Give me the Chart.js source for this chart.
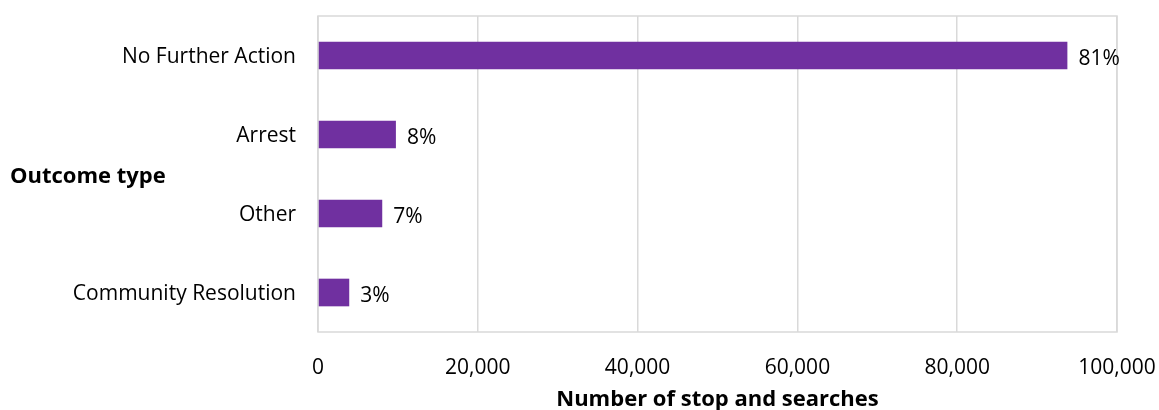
<!DOCTYPE html>
<html>
<head>
<meta charset="utf-8">
<script src="https://cdn.jsdelivr.net/npm/chart.js@4.4.1/dist/chart.umd.min.js"></script>
<style>
  html, body { margin: 0; padding: 0; background: #ffffff; }
  #wrap { width: 1159px; height: 410px; position: relative; }
</style>
</head>
<body>
<div id="wrap"><canvas id="chart"></canvas></div>
<script>
// Stop and search outcomes
const categories = ['No Further Action', 'Arrest', 'Other', 'Community Resolution'];
const searches = [93790, 9750, 8040, 3910];
const xTicks = [0, 20000, 40000, 60000, 80000, 100000];

const yTitle = 'Outcome type';
const xTitle = 'Number of stop and searches';

const FONT = '"Open Sans", "Noto Sans", "Liberation Sans", sans-serif';
const INK = '#000000';
const GRID = '#d9d9d9';
const BAR = '#7030a0';
const LABEL_SIZE = 21;
const TITLE_SIZE = 22;

const total = searches.reduce((a, b) => a + b, 0);

// Percentage labels at the end of each bar
const pctLabels = {
  id: 'pctLabels',
  afterDatasetsDraw(chart) {
    const { ctx } = chart;
    const meta = chart.getDatasetMeta(0);
    ctx.save();
    ctx.font = LABEL_SIZE + 'px ' + FONT;
    ctx.fillStyle = INK;
    ctx.textAlign = 'left';
    ctx.textBaseline = 'middle';
    meta.data.forEach((bar, i) => {
      const pct = Math.round(searches[i] / total * 100) + '%';
      ctx.fillText(pct, bar.x + 11, bar.y + 4);
    });
    ctx.restore();
  }
};

// Horizontal category-axis title, centred on the plot height
const sideTitle = {
  id: 'sideTitle',
  afterDraw(chart) {
    const { ctx, chartArea } = chart;
    ctx.save();
    ctx.font = 'bold ' + TITLE_SIZE + 'px ' + FONT;
    ctx.fillStyle = INK;
    ctx.textAlign = 'left';
    ctx.textBaseline = 'middle';
    ctx.fillText(yTitle, 10, (chartArea.top + chartArea.bottom) / 2 + 3);
    ctx.restore();
  }
};

// Border around the plot area
const plotBorder = {
  id: 'plotBorder',
  beforeDatasetsDraw(chart) {
    const { ctx, chartArea: a } = chart;
    ctx.save();
    ctx.strokeStyle = GRID;
    ctx.lineWidth = 1.5;
    ctx.strokeRect(a.left, a.top, a.right - a.left, a.bottom - a.top);
    ctx.restore();
  }
};

new Chart(document.getElementById('chart'), {
  type: 'bar',
  data: {
    labels: categories,
    datasets: [{
      data: searches,
      backgroundColor: BAR,
      borderWidth: 0,
      categoryPercentage: 1.0,
      barPercentage: 0.35
    }]
  },
  options: {
    indexAxis: 'y',
    responsive: true,
    maintainAspectRatio: false,
    animation: false,
    events: [],
    layout: { padding: { top: 16, right: 42, bottom: 0, left: 0 } },
    plugins: {
      legend: { display: false },
      tooltip: { enabled: false },
      title: { display: false }
    },
    scales: {
      x: {
        min: 0,
        max: 100000,
        afterBuildTicks(scale) {
          scale.ticks = xTicks.map(v => ({ value: v }));
        },
        afterFit(scale) {
          scale.height = 78;
          scale.paddingLeft = 0;
          scale.paddingRight = 0;
        },
        grid: { color: GRID, lineWidth: 1.5, drawTicks: false },
        border: { display: false },
        ticks: {
          color: INK,
          font: { family: FONT, size: LABEL_SIZE },
          padding: 23,
          maxRotation: 0,
          callback: v => v.toLocaleString('en-GB')
        },
        title: {
          display: true,
          text: xTitle,
          color: INK,
          font: { family: FONT, size: TITLE_SIZE, weight: 'bold', lineHeight: 0.95 },
          padding: { top: 0, bottom: 0 }
        }
      },
      y: {
        afterFit(scale) {
          scale.width = 318;
          scale.paddingTop = 0;
          scale.paddingBottom = 0;
        },
        grid: { display: false, drawTicks: false },
        border: { display: false },
        ticks: {
          color: INK,
          font: { family: FONT, size: LABEL_SIZE },
          padding: 22,
          labelOffset: 2
        }
      }
    }
  },
  plugins: [plotBorder, pctLabels, sideTitle]
});
</script>
</body>
</html>
